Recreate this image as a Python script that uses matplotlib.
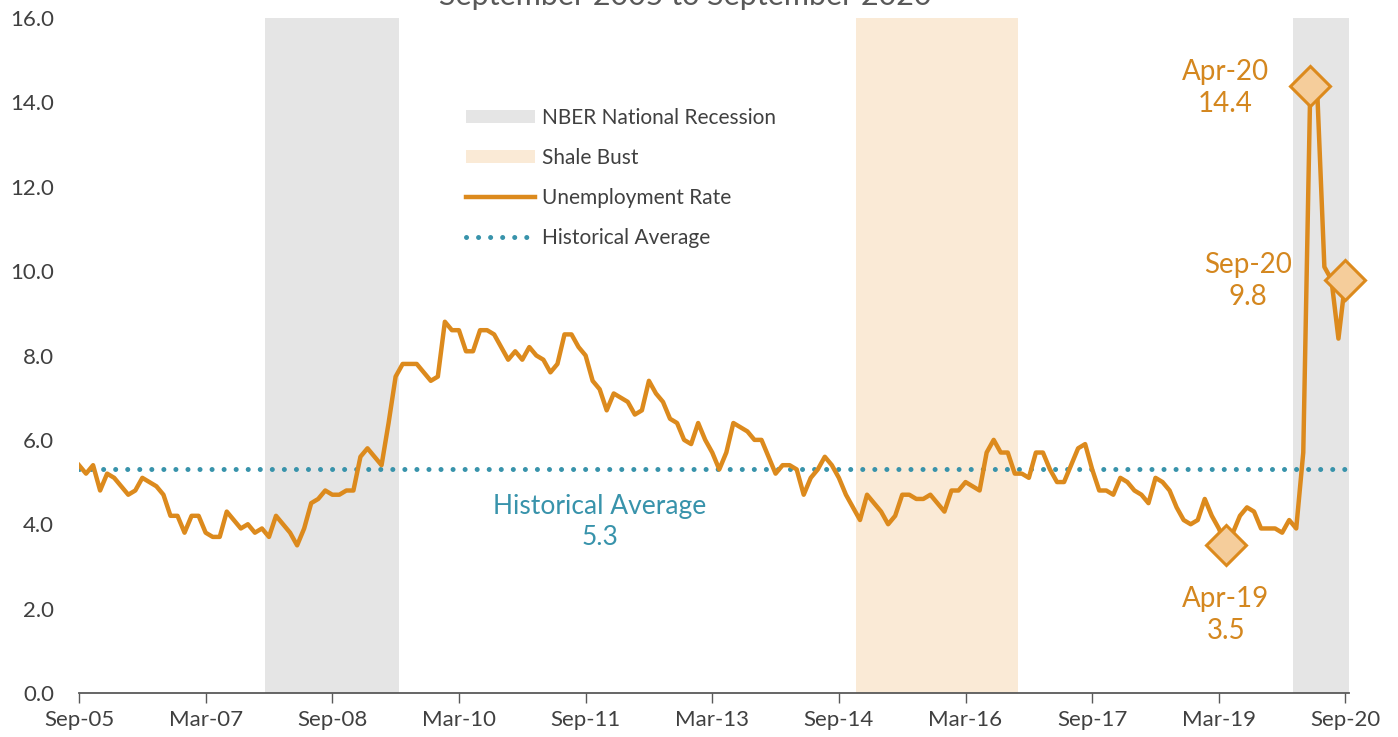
import matplotlib.pyplot as plt
from matplotlib.patches import Patch
from matplotlib.lines import Line2D

# =========================
# Dados (taxa mensal, Sep-05 .. Sep-20)
# =========================
taxa = [
    5.4, 5.2, 5.4, 4.8, 5.2, 5.1, 4.9, 4.7, 4.8, 5.1, 5.0, 4.9,   # Sep-05 ..
    4.7, 4.2, 4.2, 3.8, 4.2, 4.2, 3.8, 3.7, 3.7, 4.3, 4.1, 3.9,   # Sep-06 ..
    4.0, 3.8, 3.9, 3.7, 4.2, 4.0, 3.8, 3.5, 3.9, 4.5, 4.6, 4.8,   # Sep-07 ..
    4.7, 4.7, 4.8, 4.8, 5.6, 5.8, 5.6, 5.4, 6.4, 7.5, 7.8, 7.8,   # Sep-08 ..
    7.8, 7.6, 7.4, 7.5, 8.8, 8.6, 8.6, 8.1, 8.1, 8.6, 8.6, 8.5,   # Sep-09 ..
    8.2, 7.9, 8.1, 7.9, 8.2, 8.0, 7.9, 7.6, 7.8, 8.5, 8.5, 8.2,   # Sep-10 ..
    8.0, 7.4, 7.2, 6.7, 7.1, 7.0, 6.9, 6.6, 6.7, 7.4, 7.1, 6.9,   # Sep-11 ..
    6.5, 6.4, 6.0, 5.9, 6.4, 6.0, 5.7, 5.3, 5.7, 6.4, 6.3, 6.2,   # Sep-12 ..
    6.0, 6.0, 5.6, 5.2, 5.4, 5.4, 5.3, 4.7, 5.1, 5.3, 5.6, 5.4,   # Sep-13 ..
    5.1, 4.7, 4.4, 4.1, 4.7, 4.5, 4.3, 4.0, 4.2, 4.7, 4.7, 4.6,   # Sep-14 ..
    4.6, 4.7, 4.5, 4.3, 4.8, 4.8, 5.0, 4.9, 4.8, 5.7, 6.0, 5.7,   # Sep-15 ..
    5.7, 5.2, 5.2, 5.1, 5.7, 5.7, 5.3, 5.0, 5.0, 5.4, 5.8, 5.9,   # Sep-16 ..
    5.3, 4.8, 4.8, 4.7, 5.1, 5.0, 4.8, 4.7, 4.5, 5.1, 5.0, 4.8,   # Sep-17 ..
    4.4, 4.1, 4.0, 4.1, 4.6, 4.2, 3.9, 3.5, 3.8, 4.2, 4.4, 4.3,   # Sep-18 ..
    3.9, 3.9, 3.9, 3.8, 4.1, 3.9, 5.7, 14.4, 14.2, 10.1, 9.8, 8.4, # Sep-19 ..
    9.8,                                                          # Sep-20
]
media_historica = 5.3

rotulos_x = ["Sep-05", "Mar-07", "Sep-08", "Mar-10", "Sep-11", "Mar-13",
             "Sep-14", "Mar-16", "Sep-17", "Mar-19", "Sep-20"]

# periodos (indice do mes inicial e final)
recessoes = [(27, 45), (173, 180)]   # Dec-07..Jun-09, Feb-20..Sep-20
shale = (111, 133)                   # Dec-14..Oct-16

# pontos destacados: (indice, rotulo)
destaques = [(163, "Apr-19"), (175, "Apr-20"), (180, "Sep-20")]

# =========================
# Cores
# =========================
laranja = "#DC8A1D"
laranja_txt = "#D4871F"
diamante = "#F5CD9B"
azul = "#3893AB"
cinza_faixa = "#E5E5E5"
bege = "#FAEAD6"
cinza_txt = "#404040"

plt.rcParams['font.family'] = ['Lato', 'DejaVu Sans']

fig = plt.figure(figsize=(13.98, 7.37), dpi=100)
ax = fig.add_axes([79/1398, 44/737, 1270/1398, 675/737])

meses = list(range(len(taxa)))

for a, b in recessoes:
    ax.axvspan(a - 0.5, b + 0.5, color=cinza_faixa, lw=0, zorder=0)
ax.axvspan(shale[0] - 0.5, shale[1] + 0.5, color=bege, lw=0, zorder=0)

ax.plot(meses, [media_historica]*len(meses), color=azul, lw=3.6,
        linestyle=(0, (0.01, 2.4)), dash_capstyle='round', zorder=2)
ax.plot(meses, taxa, color=laranja, lw=3.2, zorder=3, solid_joinstyle='round')

for i, rot in destaques:
    ax.plot(i, taxa[i], marker='D', ms=20, mfc=diamante, mec=laranja,
            mew=2.2, zorder=4, clip_on=False)

rotulos_pts = dict(destaques)

def rotulo(i, dx, dy):
    ax.annotate(f"{rotulos_pts[i]}\n{taxa[i]:.1f}", (i, taxa[i]),
                xytext=(dx, dy), textcoords='offset points', ha='center',
                va='center', fontsize=20, color=laranja_txt, linespacing=1.3,
                annotation_clip=False)

rotulo(163, 0, -50)
rotulo(175, -61, -2)
rotulo(180, -70, -1)

ax.text(74, 4.05, f"Historical Average\n{media_historica:.1f}", ha='center',
        va='center', fontsize=19, color=azul, linespacing=1.3)

# eixos
ax.set_xlim(0, 180.5)
ax.set_ylim(0, 16)
ax.set_yticks([v * 2 for v in range(9)])
ax.set_yticklabels([f"{v*2:.1f}" for v in range(9)])
ax.set_xticks(list(range(0, 181, 18)))
ax.set_xticklabels(rotulos_x)
ax.tick_params(axis='y', length=0, pad=18, labelsize=16, labelcolor=cinza_txt)
ax.tick_params(axis='x', length=7, width=1, direction='out', color="#595959",
               pad=5, labelsize=16, labelcolor=cinza_txt)
for s in ['top', 'right', 'left']:
    ax.spines[s].set_visible(False)
ax.spines['bottom'].set_color("#595959")
ax.spines['bottom'].set_linewidth(1.3)

# legenda
handles = [
    Patch(facecolor=cinza_faixa, edgecolor='none', label="NBER National Recession"),
    Patch(facecolor=bege, edgecolor='none', label="Shale Bust"),
    Line2D([], [], color=laranja, lw=3.2, label="Unemployment Rate"),
    Line2D([], [], color=azul, lw=3.6, linestyle=(0, (0.01, 2.4)),
           dash_capstyle='round', label="Historical Average"),
]
leg = ax.legend(handles=handles, loc='upper left',
                bbox_to_anchor=(447/1398, 1 - 89/737), bbox_transform=fig.transFigure,
                frameon=False, fontsize=15, handlelength=3.3, handleheight=0.6,
                handletextpad=0.35, labelspacing=0.97)
for t in leg.get_texts():
    t.set_color(cinza_txt)

# titulo (cortado no topo, como no original)
fig.text(0.49, 1 + 4/737, "September 2005 to September 2020", ha='center',
         va='center', fontsize=22, color="#595959")

plt.savefig("out.png", dpi=100)
